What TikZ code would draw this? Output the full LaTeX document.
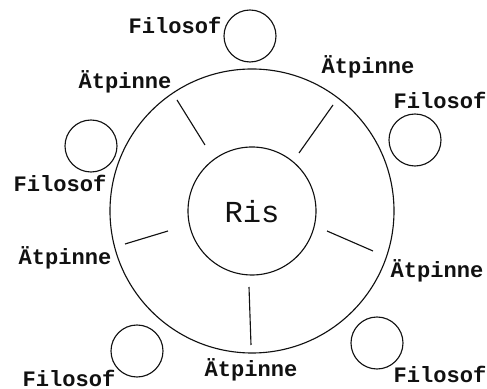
\documentclass[tikz,border=0pt]{standalone}
\usepackage{fontspec}
\usepackage{tikz}
\setmonofont{Liberation Mono}
\definecolor{ink}{HTML}{111111}

\tikzset{
    bord/.style={ink,line width=0.8pt},
    namn/.style={ink,font=\ttfamily\bfseries\fontsize{15.7}{18}\selectfont,inner sep=0pt}
}

\begin{document}
\begin{tikzpicture}[x=0.25mm,y=0.25mm]

    \useasboundingbox (0,0) rectangle (487,389);

    % bordet och risskalen
    \draw[bord] (252,178) circle (142);
    \draw[bord] (252,178) circle (64);
    \node[ink,font=\ttfamily\fontsize{21.7}{24}\selectfont] (ris) at (252,177) {Ris};

    % filosoferna
    \draw[bord] (250,353) circle (26);
    \draw[bord] (415,249) circle (26);
    \draw[bord] (91,243) circle (26);
    \draw[bord] (137,38) circle (26);
    \draw[bord] (377,46) circle (26);

    \node[namn] (fil1) at (175,364) {Filosof};
    \node[namn] (fil2) at (440,289) {Filosof};
    \node[namn] (fil3) at (60,206) {Filosof};
    \node[namn] (fil4) at (69,11) {Filosof};
    \node[namn] (fil5) at (440,15) {Filosof};

    % ätpinnarna
    \draw[bord] (177,289) -- (205,244);
    \draw[bord] (333,284) -- (299,236);
    \draw[bord] (125,145) -- (168,158);
    \draw[bord] (327,158) -- (373,138);
    \draw[bord] (249,102) -- (251,44);

    \node[namn] (pin1) at (125,307) {Ätpinne};
    \node[namn] (pin2) at (368,322) {Ätpinne};
    \node[namn] (pin3) at (65,131) {Ätpinne};
    \node[namn] (pin4) at (437,118) {Ätpinne};
    \node[namn] (pin5) at (251,19) {Ätpinne};

\end{tikzpicture}
\end{document}
